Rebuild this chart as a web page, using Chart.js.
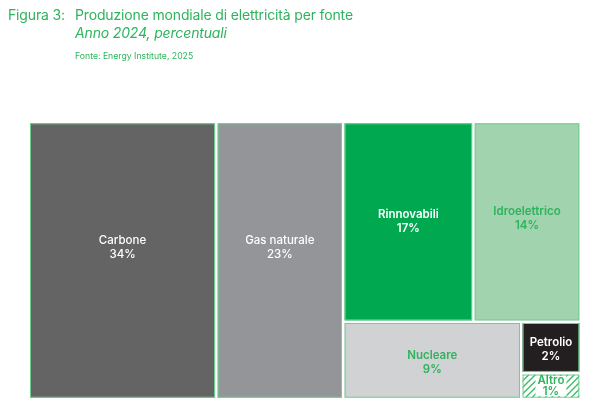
<!DOCTYPE html>
<html><head><meta charset="utf-8">
<script src="https://cdn.jsdelivr.net/npm/chart.js@4/dist/chart.umd.min.js"></script>
<style>
html,body{margin:0;padding:0;background:#fff;}
#wrap{position:relative;width:600px;height:409px;overflow:hidden;font-family:Inter,"Liberation Sans",sans-serif;}
#c{position:absolute;left:0;top:0;}
.t{position:absolute;color:#2db45c;white-space:nowrap;}
</style></head>
<body>
<div id="wrap">
<canvas id="c" width="600" height="409"></canvas>
<div class="t" style="left:8px;top:6px;font-size:14px;letter-spacing:-0.15px;">Figura 3:</div>
<div class="t" style="left:75px;top:6px;font-size:14px;letter-spacing:-0.15px;">Produzione mondiale di elettricità per fonte</div>
<div class="t" style="left:75px;top:24px;font-size:14px;letter-spacing:-0.15px;font-style:italic;">Anno 2024, percentuali</div>
<div class="t" style="left:75px;top:51px;font-size:8.7px;">Fonte: Energy Institute, 2025</div>
</div>
<script>
// ---- data ----
const categories = ['Carbone','Gas naturale','Rinnovabili','Idroelettrico','Nucleare','Petrolio','Altro'];
const shares = [34, 23, 17, 14, 9, 2, 1];
const valueLabels = ['34%','23%','17%','14%','9%','2%','1%'];
// grouping of the treemap (indices into categories): h = side by side, v = stacked
const grouping = {dir:'h', children:[0, 1, {dir:'v', children:[{dir:'h', children:[2,3]}, {dir:'h', children:[4, {dir:'v', children:[5,6]}]}]}]};

// ---- styles ----
const fills = ['#646464','#949598','#00a84f','#a1d3ae','#d1d2d4','#231f20','hatch'];
const textColors = ['#ffffff','#ffffff','#ffffff','#2db45c','#2db45c','#ffffff','#2db45c'];
const fontWeights = ['500','500','600','600','600','600','600'];
const textShiftY = [-13,-13,0,-3,2,2,0];

function total(n){ return typeof n==='number' ? shares[n] : n.children.reduce((s,c)=>s+total(c),0); }
function layout(n,x0,y0,x1,y1,out){
  if(typeof n==='number'){ out[n]={x0,y0,x1,y1}; return out; }
  const t=total(n); let p = n.dir==='h'? x0 : y0;
  n.children.forEach(c=>{
    const f=total(c)/t;
    if(n.dir==='h'){ const w=(x1-x0)*f; layout(c,p,y0,p+w,y1,out); p+=w; }
    else { const h=(y1-y0)*f; layout(c,x0,p,x1,p+h,out); p+=h; }
  });
  return out;
}

const treemapPlugin = {
  id:'treemap',
  afterDatasetsDraw(chart){
    const ctx=chart.ctx, xs=chart.scales.x, ys=chart.scales.y;
    const rects=layout(grouping,0,0,100,100,[]);
    const g=1.3;
    rects.forEach((r,i)=>{
      const X0=xs.getPixelForValue(r.x0)+g, X1=xs.getPixelForValue(r.x1)-g;
      const Y0=ys.getPixelForValue(r.y0)+g, Y1=ys.getPixelForValue(r.y1)-g;
      const w=X1-X0, h=Y1-Y0;
      ctx.save();
      if(fills[i]==='hatch'){
        ctx.fillStyle='#fff'; ctx.fillRect(X0,Y0,w,h);
        ctx.save(); ctx.beginPath(); ctx.rect(X0,Y0,w,h); ctx.clip();
        ctx.strokeStyle='#3dbb6a'; ctx.lineWidth=1.4;
        for(let s=X0-h; s<X1+h; s+=6.5){ ctx.beginPath(); ctx.moveTo(s,Y1); ctx.lineTo(s+h,Y0); ctx.stroke(); }
        ctx.restore();
      } else { ctx.fillStyle=fills[i]; ctx.fillRect(X0,Y0,w,h); }
      ctx.strokeStyle='#6fcf90'; ctx.lineWidth=1;
      ctx.strokeRect(X0+0.5,Y0+0.5,w-1,h-1);
      // labels
      const cx=(X0+X1)/2, cy=(Y0+Y1)/2+textShiftY[i];
      ctx.font=fontWeights[i]+' 11.5px Inter, "Liberation Sans", sans-serif';
      ctx.textAlign='center'; ctx.textBaseline='middle';
      const lh = h<30 ? 11 : 14;
      if(fills[i]==='hatch'){
        const tw=Math.max(ctx.measureText(categories[i]).width, ctx.measureText(valueLabels[i]).width);
        ctx.fillStyle='#fff'; ctx.fillRect(cx-tw/2-2, Y0+1.5, tw+4, h-3);
      }
      ctx.fillStyle=textColors[i];
      ctx.fillText(categories[i],cx,cy-lh/2);
      ctx.fillText(valueLabels[i],cx,cy+lh/2);
      ctx.restore();
    });
  }
};

new Chart(document.getElementById('c'),{
  type:'scatter',
  data:{datasets:[{data:[]}]},
  options:{
    responsive:false, animation:false, devicePixelRatio:1,
    layout:{padding:{left:28.7,right:19.4,top:122,bottom:10}},
    scales:{
      x:{type:'linear',min:0,max:100,display:false},
      y:{type:'linear',min:0,max:100,reverse:true,display:false}
    },
    plugins:{legend:{display:false},tooltip:{enabled:false}}
  },
  plugins:[treemapPlugin]
});
</script>
</body></html>
